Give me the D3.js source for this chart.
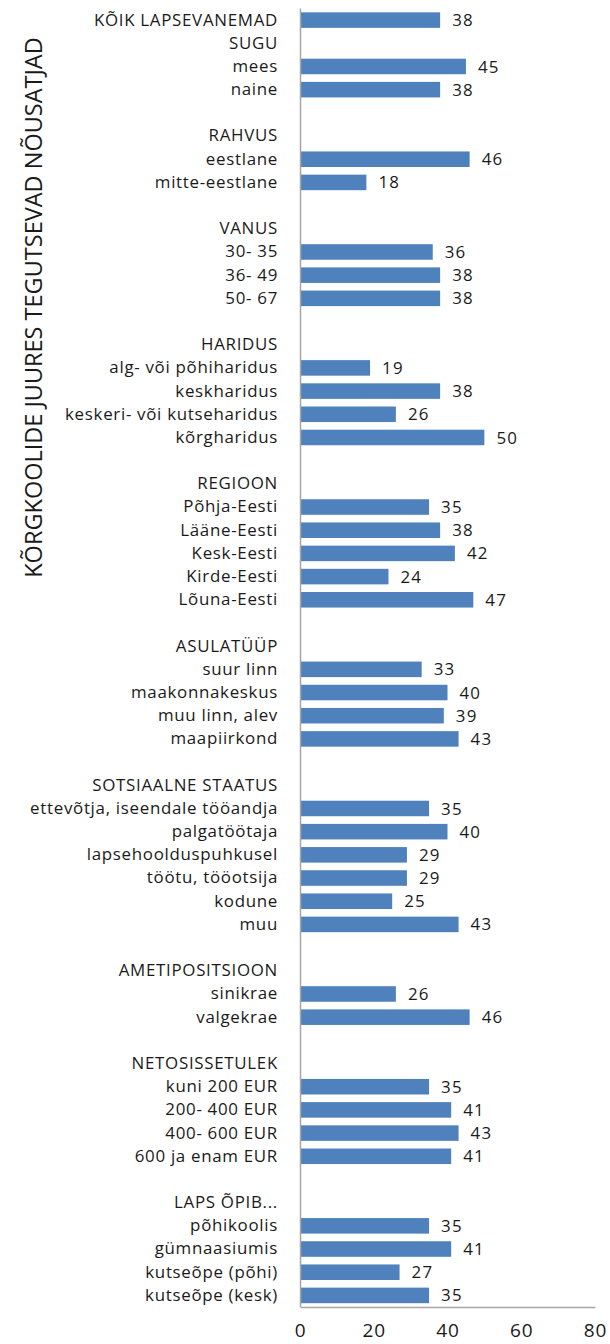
<!DOCTYPE html>
<html>
<head>
<meta charset="utf-8">
<script src="https://cdn.jsdelivr.net/npm/d3@7"></script>
<style>
  html, body { margin: 0; padding: 0; background: #fff; }
  svg text { font-family: "Open Sans", "Liberation Sans", Arial, sans-serif; fill: #1a1a1a; }
</style>
</head>
<body>
<svg id="chart" width="610" height="1344"></svg>
<script>
// Row labels (group headers and blank spacer rows included)
const categories = [
  "KÕIK LAPSEVANEMAD", "SUGU", "mees", "naine", "",
  "RAHVUS", "eestlane", "mitte-eestlane", "",
  "VANUS", "30- 35", "36- 49", "50- 67", "",
  "HARIDUS", "alg- või põhiharidus", "keskharidus", "keskeri- või kutseharidus", "kõrgharidus", "",
  "REGIOON", "Põhja-Eesti", "Lääne-Eesti", "Kesk-Eesti", "Kirde-Eesti", "Lõuna-Eesti", "",
  "ASULATÜÜP", "suur linn", "maakonnakeskus", "muu linn, alev", "maapiirkond", "",
  "SOTSIAALNE STAATUS", "ettevõtja, iseendale tööandja", "palgatöötaja", "lapsehoolduspuhkusel", "töötu, tööotsija", "kodune", "muu", "",
  "AMETIPOSITSIOON", "sinikrae", "valgekrae", "",
  "NETOSISSETULEK", "kuni 200 EUR", "200- 400 EUR", "400- 600 EUR", "600 ja enam EUR", "",
  "LAPS ÕPIB...", "põhikoolis", "gümnaasiumis", "kutseõpe (põhi)", "kutseõpe (kesk)"
];

// Share of parents (%) per row; null where the row has no bar
const values = [
  38, null, 45, 38, null,
  null, 46, 18, null,
  null, 36, 38, 38, null,
  null, 19, 38, 26, 50, null,
  null, 35, 38, 42, 24, 47, null,
  null, 33, 40, 39, 43, null,
  null, 35, 40, 29, 29, 25, 43, null,
  null, 26, 46, null,
  null, 35, 41, 43, 41, null,
  null, 35, 41, 27, 35
];

const xTicks = [0, 20, 40, 60, 80];
const axisTitle = "KÕRGKOOLIDE JUURES TEGUTSEVAD NÕUSATJAD";

const svg = d3.select("#chart");
const plot = { left: 300, right: 595, top: 8.5, bottom: 1307 };
const font = '"Open Sans", "Liberation Sans", Arial, sans-serif';

const rows = categories.map((c, i) => ({ i, label: c, value: values[i] }));

const x = d3.scaleLinear().domain([0, 80]).range([plot.left, plot.right]);
const y = d3.scaleBand()
  .domain(rows.map(r => r.i))
  .range([plot.top, plot.bottom])
  .paddingInner(0.33)
  .paddingOuter(0.165);

// Bars
svg.append("g").selectAll("rect")
  .data(rows.filter(r => r.value !== null))
  .join("rect")
  .attr("x", x(0))
  .attr("y", r => y(r.i))
  .attr("width", r => x(r.value) - x(0))
  .attr("height", y.bandwidth())
  .attr("fill", "#4f81bd");

// Value labels
svg.append("g").selectAll("text")
  .data(rows.filter(r => r.value !== null))
  .join("text")
  .attr("x", r => x(r.value) + 12)
  .attr("y", r => y(r.i) + y.bandwidth() / 2)
  .attr("dy", "0.36em")
  .attr("font-size", 16.9)
  .attr("letter-spacing", 1.2)
  .text(r => r.value);

// Category axis (left)
const yAxis = d3.axisLeft(y).tickSize(0).tickPadding(22).tickFormat(i => categories[i]);
const gy = svg.append("g").attr("transform", `translate(${plot.left},0)`).call(yAxis);
gy.select(".domain").attr("stroke", "#a6a6a6").attr("stroke-width", 1.5)
  .attr("d", `M0.5,${plot.top}V${plot.bottom}`);
gy.selectAll("text").attr("font-size", 16.9).attr("letter-spacing", 0.7)
  .attr("fill", "#1a1a1a").style("font-family", font);

// Value axis (bottom)
const xAxis = d3.axisBottom(x).tickValues(xTicks).tickSize(0).tickPadding(17);
const gx = svg.append("g").attr("transform", `translate(0,${plot.bottom})`).call(xAxis);
gx.select(".domain").attr("stroke", "#a6a6a6").attr("stroke-width", 1.5);
gx.selectAll("text").attr("font-size", 19).attr("letter-spacing", 0.8)
  .attr("fill", "#1a1a1a").style("font-family", font);

// Rotated axis title
svg.append("text")
  .attr("transform", "translate(42,307.5) rotate(-90)")
  .attr("text-anchor", "middle")
  .attr("font-size", 23.5)
  .text(axisTitle);
</script>
</body>
</html>
